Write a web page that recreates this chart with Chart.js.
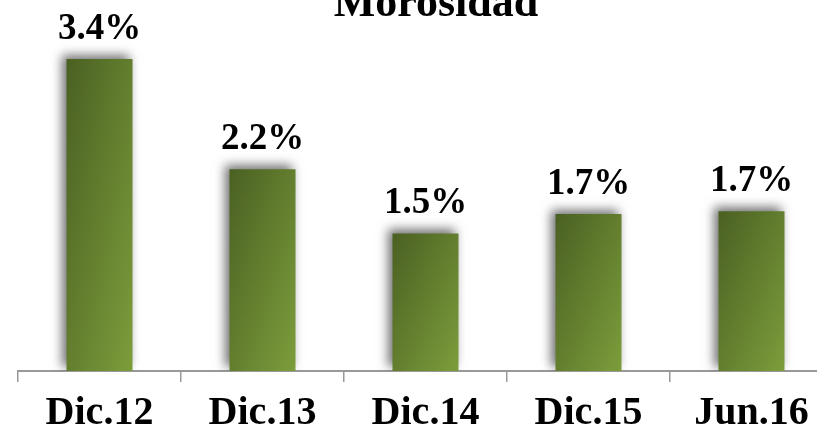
<!DOCTYPE html>
<html>
<head>
<meta charset="utf-8">
<script src="https://cdn.jsdelivr.net/npm/chart.js@4"></script>
<style>
    html, body { margin: 0; padding: 0; background: #fff; }
    #wrap { width: 817px; height: 432px; overflow: hidden; position: relative; }
    #chart { position: absolute; left: 0; top: 0; }
</style>
</head>
<body>
<div id="wrap"><canvas id="chart" width="840" height="432"></canvas></div>
<script>
// Chart data
const titleText = 'Morosidad';
const categories = ['Dic.12', 'Dic.13', 'Dic.14', 'Dic.15', 'Jun.16'];
const morosidad = [3.40, 2.20, 1.50, 1.71, 1.74];

const serif = '"Liberation Serif", "DejaVu Serif", serif';
const barPct = 0.405;

// diagonal gradient stretched over each bar (dark top-left, light bottom-right)
function barGradient(context) {
    const chart = context.chart;
    const xs = chart.scales.x;
    const ys = chart.scales.y;
    if (!chart.chartArea || !xs || !ys || context.dataIndex === undefined) return '#6a8a30';
    const cx = xs.getPixelForValue(context.dataIndex);
    const w = (xs.width / categories.length) * barPct;
    const top = ys.getPixelForValue(morosidad[context.dataIndex]);
    const base = ys.getPixelForValue(0);
    const h = base - top;
    if (![cx, w, top, h].every(Number.isFinite) || h <= 0) return '#6a8a30';
    const left = cx - w / 2;
    const k = 2 * w * h / (w * w + h * h);
    const g = chart.ctx.createLinearGradient(left, top, left + k * h, top + k * w);
    g.addColorStop(0, '#4a6022');
    g.addColorStop(1, '#7c9d3b');
    return g;
}

const barShadow = {
    id: 'barShadow',
    beforeDatasetDraw(chart) {
        const ctx = chart.ctx;
        ctx.save();
        ctx.shadowColor = 'rgba(0, 0, 0, 0.55)';
        ctx.shadowBlur = 10;
        ctx.shadowOffsetX = -4;
        ctx.shadowOffsetY = -4;
    },
    afterDatasetDraw(chart) {
        chart.ctx.restore();
    }
};

const valueLabels = {
    id: 'valueLabels',
    afterDatasetsDraw(chart) {
        const ctx = chart.ctx;
        const meta = chart.getDatasetMeta(0);
        ctx.save();
        ctx.font = 'bold 37px ' + serif;
        ctx.fillStyle = '#000';
        ctx.textAlign = 'center';
        ctx.textBaseline = 'alphabetic';
        meta.data.forEach((bar, i) => {
            ctx.fillText(morosidad[i].toFixed(1) + '%', bar.x, bar.y - 20);
        });
        ctx.restore();
    }
};

const chartTitle = {
    id: 'chartTitle',
    afterDraw(chart) {
        const ctx = chart.ctx;
        ctx.save();
        ctx.font = 'bold 44px ' + serif;
        ctx.fillStyle = '#000';
        ctx.textAlign = 'center';
        ctx.textBaseline = 'alphabetic';
        ctx.fillText(titleText, 436, 16);
        ctx.restore();
    }
};

new Chart(document.getElementById('chart'), {
    type: 'bar',
    data: {
        labels: categories,
        datasets: [{
            data: morosidad,
            backgroundColor: barGradient,
            borderWidth: 0,
            categoryPercentage: 1,
            barPercentage: barPct
        }]
    },
    options: {
        responsive: false,
        animation: false,
        layout: { padding: { left: 18, right: 7, top: 4, bottom: 0 } },
        plugins: {
            legend: { display: false },
            tooltip: { enabled: false }
        },
        scales: {
            x: {
                grid: {
                    display: true,
                    drawOnChartArea: false,
                    drawTicks: true,
                    tickLength: 11,
                    color: '#999',
                    lineWidth: 1.5
                },
                border: { display: true, color: '#999', width: 2 },
                ticks: {
                    color: '#000',
                    padding: 8,
                    font: { family: serif, size: 40, weight: 'bold', lineHeight: 1.2 }
                },
                afterFit(scale) { scale.height = 61; }
            },
            y: {
                display: false,
                min: 0,
                max: 4
            }
        }
    },
    plugins: [barShadow, valueLabels, chartTitle]
});
</script>
</body>
</html>
